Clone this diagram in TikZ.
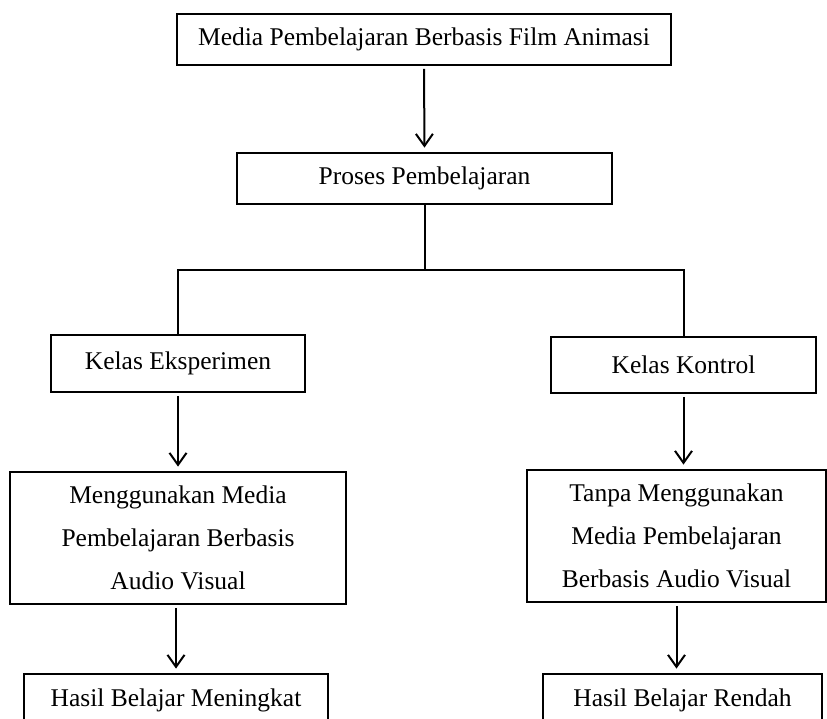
\documentclass[tikz,border=0pt]{standalone}
\usepackage{fontspec}
\setmainfont{Liberation Serif}
\usetikzlibrary{arrows.meta,calc}
\begin{document}
\begin{tikzpicture}[x=1pt,y=-1pt,
  box/.style={draw, line width=2.8pt, inner sep=0pt, align=center, font=\fontsize{25.5}{43}\selectfont},
  conn/.style={line width=2pt},
  arr/.style={conn, -{Straight Barb[length=12pt,width=17pt,line width=2pt]}, shorten <=2.5pt, shorten >=4pt}]
\useasboundingbox (0,0) rectangle (827,719);
\clip (0,0) rectangle (827,719);
\node[box, minimum width=494pt, minimum height=51pt] (top) at (424,39.5) {Media Pembelajaran Berbasis Film Animasi};
\node[box, minimum width=375pt, minimum height=51pt] (proses) at (424.5,178.5) {Proses Pembelajaran};
\node[box, minimum width=254pt, minimum height=57pt] (eks) at (178,363.5) {Kelas Eksperimen};
\node[box, minimum width=265pt, minimum height=56pt] (kon) at (683.5,365) {Kelas Kontrol};
\node[box, minimum width=336pt, minimum height=132pt] (meng) at (178,538) {Menggunakan Media\\Pembelajaran Berbasis\\Audio Visual};
\node[box, minimum width=299pt, minimum height=132pt] (tanpa) at (676.5,536) {Tanpa Menggunakan\\Media Pembelajaran\\Berbasis Audio Visual};
\node[box, minimum width=304pt, minimum height=52pt] (hasil1) at (176,700) {Hasil Belajar Meningkat};
\node[box, minimum width=279pt, minimum height=52pt] (hasil2) at (682.5,700) {Hasil Belajar Rendah};
\draw[arr] (top.south) -- (proses.north);
\draw[conn] (proses.south) -- ++(0,65) coordinate (bus);
\draw[conn] (eks.north) |- (bus) -| (kon.north);
\draw[arr] (eks.south) -- (eks.south |- meng.north);
\draw[arr] (kon.south) -- (kon.south |- tanpa.north);
\draw[arr] (hasil1.north |- meng.south) -- (hasil1.north);
\draw[arr] (tanpa.south) -- (tanpa.south |- hasil2.north);
\end{tikzpicture}
\end{document}
